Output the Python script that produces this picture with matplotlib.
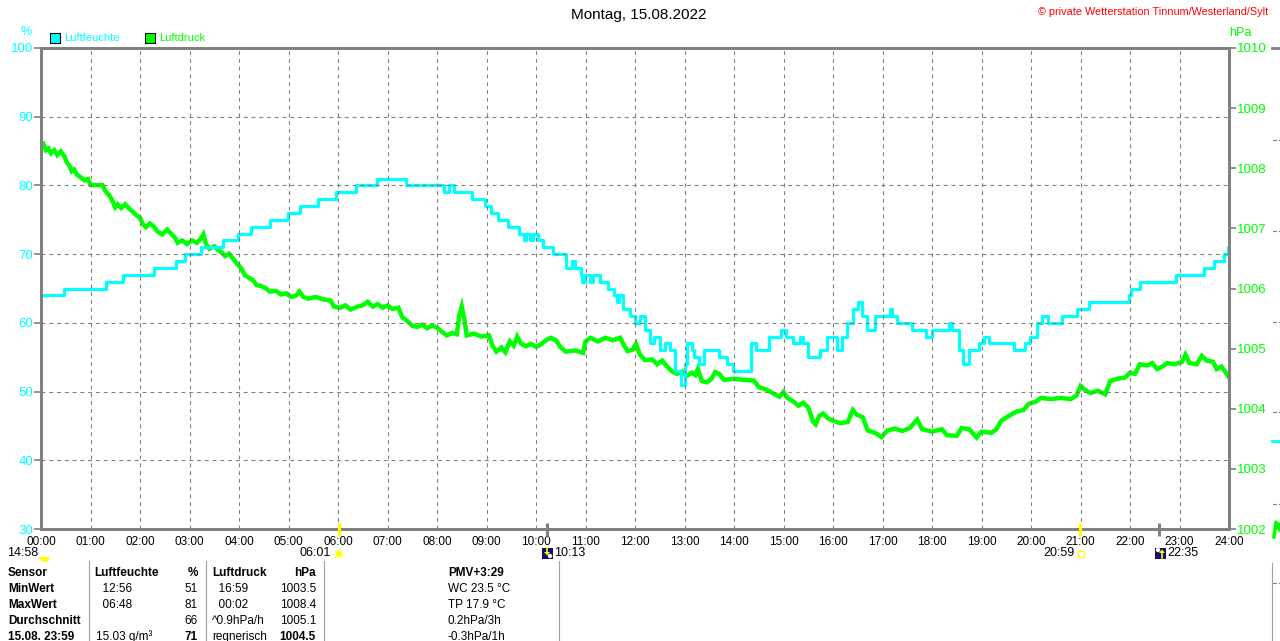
import matplotlib
matplotlib.use("Agg")
import matplotlib.pyplot as plt
from matplotlib.patches import Rectangle, Circle, Wedge, Polygon

plt.rcParams.update({"font.family": ["Liberation Sans", "DejaVu Sans"], "font.size": 8})
CYAN, GREEN, GREY, RED, NAVY, YEL = "#00FFFF", "#00FF00", "#808080", "#FF0000", "#101070", "#FFFF00"

# Luftfeuchte (%) - stepwise, (hour, value)
hum_t = [0.00, 0.47, 1.31, 1.66, 2.28, 2.73, 2.91, 3.23, 3.67, 3.97, 4.25, 4.63, 4.98, 5.23,
         5.60, 5.96, 6.36, 6.79, 7.37, 8.14, 8.25, 8.35, 8.70, 8.97, 9.10, 9.23, 9.43, 9.66,
         9.75, 9.80, 9.88, 9.93, 10.05, 10.15, 10.35, 10.61, 10.72, 10.78, 10.90, 10.93, 10.98,
         11.10, 11.15, 11.30, 11.45, 11.58, 11.63, 11.68, 11.75, 11.90, 12.00, 12.10, 12.20,
         12.30, 12.38, 12.50, 12.60, 12.70, 12.80, 12.93, 13.00, 13.05, 13.15, 13.20, 13.30,
         13.40, 13.70, 13.85, 13.98, 14.35, 14.45, 14.70, 14.95, 15.05, 15.20, 15.33, 15.40,
         15.50, 15.74, 15.88, 16.08, 16.18, 16.28, 16.40, 16.50, 16.58, 16.68, 16.85, 17.15,
         17.20, 17.30, 17.60, 17.88, 18.00, 18.35, 18.40, 18.55, 18.62, 18.75, 18.95, 19.05,
         19.15, 19.30, 19.65, 19.88, 19.98, 20.12, 20.22, 20.35, 20.62, 20.92, 21.18, 21.97,
         22.02, 22.20, 22.92, 23.50, 23.70, 23.90, 23.97, 24.00]
hum_v = [64, 65, 66, 67, 68, 69, 70, 71, 72, 73, 74, 75, 76, 77,
         78, 79, 80, 81, 80, 79, 80, 79, 78, 77, 76, 75, 74, 73,
         72, 73, 72, 73, 72, 71, 70, 68, 69, 68, 67, 66, 67,
         66, 67, 66, 65, 64, 63, 64, 62, 61, 60, 61, 59,
         57, 58, 56, 57, 56, 53, 51, 54, 57, 56, 55, 54,
         56, 55, 54, 53, 57, 56, 58, 59, 58, 57, 58, 57,
         55, 56, 58, 56, 58, 60, 62, 63, 61, 59, 61, 62,
         61, 60, 59, 58, 59, 60, 59, 56, 54, 56, 57, 58,
         57, 57, 56, 57, 58, 60, 61, 60, 61, 62, 63, 64,
         65, 66, 67, 68, 69, 70, 71, 71]

# Luftdruck (hPa), (hour, value)
pres_t = [0.00, 0.05, 0.10, 0.15, 0.20, 0.27, 0.33, 0.40, 0.47, 0.52, 0.57, 0.62, 0.67, 0.72,
          0.80, 0.88, 0.95, 1.00, 1.10, 1.24, 1.30, 1.38, 1.45, 1.50, 1.55, 1.62, 1.70, 1.78,
          1.85, 1.92, 2.00, 2.05, 2.12, 2.20, 2.28, 2.35, 2.45, 2.55, 2.62, 2.70, 2.76, 2.85,
          2.95, 3.05, 3.15, 3.22, 3.28, 3.33, 3.40, 3.50, 3.58, 3.65, 3.72, 3.80, 3.88, 3.95,
          4.05, 4.12, 4.20, 4.28, 4.35, 4.45, 4.55, 4.62, 4.75, 4.85, 4.95, 5.05, 5.15, 5.22,
          5.30, 5.40, 5.55, 5.70, 5.85, 5.92, 6.05, 6.15, 6.25, 6.40, 6.50, 6.60, 6.70, 6.80,
          6.90, 7.00, 7.10, 7.22, 7.30, 7.40, 7.50, 7.60, 7.70, 7.80, 7.90, 8.00, 8.10, 8.20,
          8.30, 8.40, 8.45, 8.50, 8.55, 8.60, 8.75, 8.90, 9.05, 9.12, 9.20, 9.30, 9.38, 9.47,
          9.55, 9.62, 9.70, 9.80, 9.90, 10.00, 10.10, 10.20, 10.30, 10.40, 10.50, 10.60, 10.80,
          10.95, 11.00, 11.10, 11.25, 11.40, 11.55, 11.70, 11.78, 11.85, 11.95, 12.02, 12.10,
          12.20, 12.35, 12.45, 12.55, 12.65, 12.75, 12.85, 12.95, 13.05, 13.15, 13.22, 13.27,
          13.35, 13.45, 13.55, 13.62, 13.70, 13.80, 14.00, 14.20, 14.40, 14.50, 14.65, 14.80,
          14.92, 15.00, 15.08, 15.20, 15.30, 15.40, 15.50, 15.60, 15.65, 15.72, 15.80, 15.90,
          16.00, 16.15, 16.30, 16.40, 16.48, 16.60, 16.70, 16.85, 16.98, 17.10, 17.25, 17.40,
          17.55, 17.70, 17.80, 18.00, 18.20, 18.30, 18.50, 18.60, 18.75, 18.90, 19.00, 19.20,
          19.30, 19.40, 19.55, 19.70, 19.85, 19.95, 20.10, 20.20, 20.40, 20.60, 20.80, 20.92,
          21.00, 21.08, 21.20, 21.35, 21.50, 21.60, 21.75, 21.90, 22.00, 22.10, 22.20, 22.35,
          22.45, 22.55, 22.65, 22.75, 22.90, 23.05, 23.12, 23.20, 23.35, 23.45, 23.55, 23.68,
          23.75, 23.85, 23.92, 24.00]
pres_v = [1008.36, 1008.40, 1008.30, 1008.33, 1008.25, 1008.30, 1008.22, 1008.28, 1008.20, 1008.10,
          1008.05, 1007.95, 1007.98, 1007.90, 1007.85, 1007.80, 1007.82, 1007.72, 1007.72, 1007.72,
          1007.62, 1007.55, 1007.45, 1007.35, 1007.40, 1007.34, 1007.40, 1007.33, 1007.28, 1007.22,
          1007.18, 1007.08, 1007.02, 1007.08, 1007.03, 1006.95, 1006.90, 1006.98, 1006.92, 1006.85,
          1006.76, 1006.80, 1006.74, 1006.80, 1006.76, 1006.82, 1006.90, 1006.75, 1006.66, 1006.70,
          1006.64, 1006.60, 1006.54, 1006.58, 1006.50, 1006.42, 1006.33, 1006.22, 1006.18, 1006.14,
          1006.06, 1006.04, 1006.00, 1005.95, 1005.96, 1005.90, 1005.92, 1005.86, 1005.88, 1005.95,
          1005.86, 1005.83, 1005.86, 1005.82, 1005.80, 1005.70, 1005.68, 1005.72, 1005.65, 1005.70,
          1005.72, 1005.78, 1005.70, 1005.74, 1005.68, 1005.72, 1005.66, 1005.68, 1005.52, 1005.46,
          1005.38, 1005.36, 1005.40, 1005.34, 1005.38, 1005.35, 1005.28, 1005.22, 1005.26, 1005.24,
          1005.55, 1005.70, 1005.50, 1005.22, 1005.25, 1005.20, 1005.22, 1005.05, 1004.95, 1005.02,
          1004.94, 1005.12, 1005.05, 1005.20, 1005.08, 1005.04, 1005.08, 1005.03, 1005.07, 1005.14,
          1005.18, 1005.14, 1005.02, 1004.95, 1004.97, 1004.93, 1005.12, 1005.18, 1005.12, 1005.18,
          1005.14, 1005.18, 1005.05, 1004.96, 1004.98, 1005.08, 1004.90, 1004.81, 1004.82, 1004.74,
          1004.80, 1004.70, 1004.62, 1004.58, 1004.62, 1004.55, 1004.60, 1004.56, 1004.66, 1004.46,
          1004.44, 1004.50, 1004.61, 1004.58, 1004.48, 1004.50, 1004.48, 1004.47, 1004.36, 1004.32,
          1004.25, 1004.20, 1004.28, 1004.18, 1004.12, 1004.05, 1004.10, 1004.02, 1003.78, 1003.74,
          1003.88, 1003.92, 1003.84, 1003.80, 1003.76, 1003.78, 1003.98, 1003.90, 1003.86, 1003.64,
          1003.60, 1003.53, 1003.64, 1003.67, 1003.63, 1003.68, 1003.82, 1003.66, 1003.62, 1003.66,
          1003.56, 1003.55, 1003.68, 1003.66, 1003.52, 1003.62, 1003.60, 1003.66, 1003.80, 1003.88,
          1003.95, 1003.98, 1004.08, 1004.12, 1004.18, 1004.16, 1004.18, 1004.16, 1004.22, 1004.38,
          1004.32, 1004.26, 1004.30, 1004.24, 1004.46, 1004.50, 1004.52, 1004.60, 1004.58, 1004.74,
          1004.72, 1004.76, 1004.66, 1004.70, 1004.76, 1004.74, 1004.78, 1004.90, 1004.76, 1004.74,
          1004.88, 1004.80, 1004.78, 1004.66, 1004.70, 1004.62, 1004.52]

hours = list(range(25))
hour_labels = [f"{h:02d}:00" for h in hours]
hum_ticks = [30, 40, 50, 60, 70, 80, 90, 100]
pres_ticks = [1002, 1003, 1004, 1005, 1006, 1007, 1008, 1009, 1010]

# sun/moon events: (hour, label)
sunrise, sunset = (6 + 1 / 60, "06:01"), (20 + 59 / 60, "20:59")
moonrise, moonset = (10 + 13 / 60, "10:13"), (22 + 35 / 60, "22:35")

table_rows = [
    ("Sensor", "Luftfeuchte", "%", "Luftdruck", "hPa", "PMV+3:29"),
    ("MinWert", "  12:56", "51", "  16:59", "1003.5", "WC 23.5 °C"),
    ("MaxWert", "  06:48", "81", "  00:02", "1008.4", "TP 17.9 °C"),
    ("Durchschnitt", "", "66", "^0.9hPa/h", "1005.1", "0.2hPa/3h"),
    ("15.08. 23:59", "15.03 g/m³", "71", "regnerisch", "1004.5", "-0.3hPa/1h"),
]

W, H = 1280, 641
fig = plt.figure(figsize=(W / 100, H / 100), dpi=100)
L, R, T, B = 41, 1229, 48, 529
ax = fig.add_axes([L / W, 1 - B / H, (R - L) / W, (B - T) / H])
ax2 = ax.twinx()
ax.set_zorder(2); ax2.set_zorder(1); ax.patch.set_visible(False)

ax2.plot(pres_t, pres_v, color=GREEN, lw=3.2, solid_joinstyle="miter")
ax.plot(hum_t, hum_v, color=CYAN, lw=2.3, drawstyle="steps-post")

ax.set_xlim(0, 24); ax.set_ylim(30, 100); ax2.set_ylim(1002, 1010)
ax.set_xticks(hours); ax.set_xticklabels(hour_labels)
ax.set_yticks(hum_ticks); ax2.set_yticks(pres_ticks)
for h in hours[1:-1]:
    ax.axvline(h, color=GREY, lw=0.8, dashes=(3.5, 3.5))
for v in hum_ticks[1:-1]:
    ax.axhline(v, color=GREY, lw=0.8, dashes=(3.5, 3.5))
for a in (ax, ax2):
    for s in a.spines.values():
        s.set_color(GREY); s.set_linewidth(2)
ax.tick_params(axis="x", length=0, pad=5, labelsize=8.5, colors="black")
ax.tick_params(axis="y", length=5, width=1.2, color=GREY, labelcolor=CYAN, labelsize=9.5, pad=0.5)
ax2.tick_params(axis="y", length=5, width=1.2, color=GREY, labelcolor=GREEN, labelsize=9.5, pad=0.5)

# overlay in pixel coordinates for header, legend, events, table
ov = fig.add_axes([0, 0, 1, 1]); ov.set_xlim(0, W); ov.set_ylim(H, 0); ov.axis("off"); ov.set_zorder(3)
ov.text(639, 15, "Montag, 15.08.2022", ha="center", va="center", fontsize=11)
ov.text(1268, 12, "© private Wetterstation Tinnum/Westerland/Sylt", ha="right", va="center", fontsize=7.8, color=RED)
ov.text(26, 32, "%", ha="center", va="center", color=CYAN, fontsize=9)
ov.text(1240, 33, "hPa", ha="center", va="center", color=GREEN, fontsize=9)
for x0, col, lbl in ((50, CYAN, "Luftfeuchte"), (145, GREEN, "Luftdruck")):
    ov.add_patch(Rectangle((x0, 33), 10, 10, facecolor=col, edgecolor="black", lw=0.8))
    ov.text(x0 + 14, 38, lbl, va="center", color=col, fontsize=8)

def px(h):
    return L + h * (R - L) / 24

# sun / moon markers
for h, _ in (sunrise, sunset):
    ov.plot([px(h)] * 2, [523, 536], color=YEL, lw=2.2, solid_capstyle="butt")
for h, _ in (moonrise, moonset):
    ov.plot([px(h)] * 2, [523, 536], color=GREY, lw=2.2, solid_capstyle="butt")
ev_y = 553
ov.text(38, ev_y, "14:58", ha="right", va="center", fontsize=9)
ov.add_patch(Wedge((44.5, 557), 5, 0, 180, facecolor=YEL, edgecolor="none"))
ov.text(331, ev_y, sunrise[1], ha="right", va="center", fontsize=9)
ov.add_patch(Circle((339, 554), 3.2, facecolor=YEL, edgecolor="none"))
ov.add_patch(Circle((339, 554), 4.6, facecolor="none", edgecolor=YEL, lw=0.8, ls=":"))
ov.text(1075, ev_y, sunset[1], ha="right", va="center", fontsize=9)
ov.add_patch(Rectangle((1078, 551), 5.5, 5.5, facecolor="none", edgecolor=YEL, lw=0.9))
for x0, up, lbl, xt in ((542, False, moonrise[1], 554), (1155, True, moonset[1], 1167)):
    ov.add_patch(Rectangle((x0, 547.5), 11, 11, facecolor=NAVY, edgecolor="none"))
    ov.add_patch(Circle((x0 + 8 if not up else x0 + 3, 556 if not up else 550), 2.2, facecolor="white", edgecolor="none"))
    if up:
        ov.add_patch(Polygon([[x0 + 4, 553], [x0 + 7, 549.5], [x0 + 10, 553]], facecolor=YEL))
        ov.plot([x0 + 7, x0 + 7], [552, 558], color=YEL, lw=1.2)
    else:
        ov.add_patch(Polygon([[x0 + 2, 552], [x0 + 5, 555.5], [x0 + 8, 552]], facecolor=YEL))
        ov.plot([x0 + 5, x0 + 5], [548, 553], color=YEL, lw=1.2)
    ov.text(xt, ev_y, lbl, ha="left", va="center", fontsize=9)

# summary table
for xs in (88.5, 205.5, 323.5, 559):
    ov.plot([xs, xs], [561, H], color="#A0A0A0", lw=0.8)
row_y = [573, 589.5, 605.5, 621.5, 637]
for i, (r, y) in enumerate(zip(table_rows, row_y)):
    bold_all = i == 0
    fw = "bold" if bold_all else "normal"
    last = i == len(table_rows) - 1
    ov.text(8, y, r[0], va="center", fontsize=8.5, fontweight="bold")
    ov.text(96 if i != 0 else 94, y, r[1], va="center", fontsize=8.5, fontweight=fw)
    ov.text(198, y, r[2], ha="right", va="center", fontsize=8.5, fontweight="bold" if (bold_all or last) else "normal")
    ov.text(212, y, r[3], va="center", fontsize=8.5, fontweight=fw)
    ov.text(316, y, r[4], ha="right", va="center", fontsize=8.5, fontweight="bold" if (bold_all or last) else "normal")
    ov.text(448, y, r[5], va="center", fontsize=8.5, fontweight=fw)

# fragment of the neighbouring chart at the right edge
ov.plot([1272, 1280], [48, 48], color=GREY, lw=2)
for y in (140, 231, 322, 412, 504, 583):
    ov.plot([1273, 1276], [y, y], color=GREY, lw=0.8)
    ov.plot([1279, 1280], [y, y], color=GREY, lw=0.8)
ov.plot([1272, 1280], [441, 441], color=CYAN, lw=2)
ov.plot([1274, 1276, 1277, 1279, 1280], [537, 522, 528, 524, 530], color=GREEN, lw=2.5)
ov.plot([1272, 1272], [563, H], color="#A0A0A0", lw=0.8)

fig.savefig("out.png", dpi=100, facecolor="white")
